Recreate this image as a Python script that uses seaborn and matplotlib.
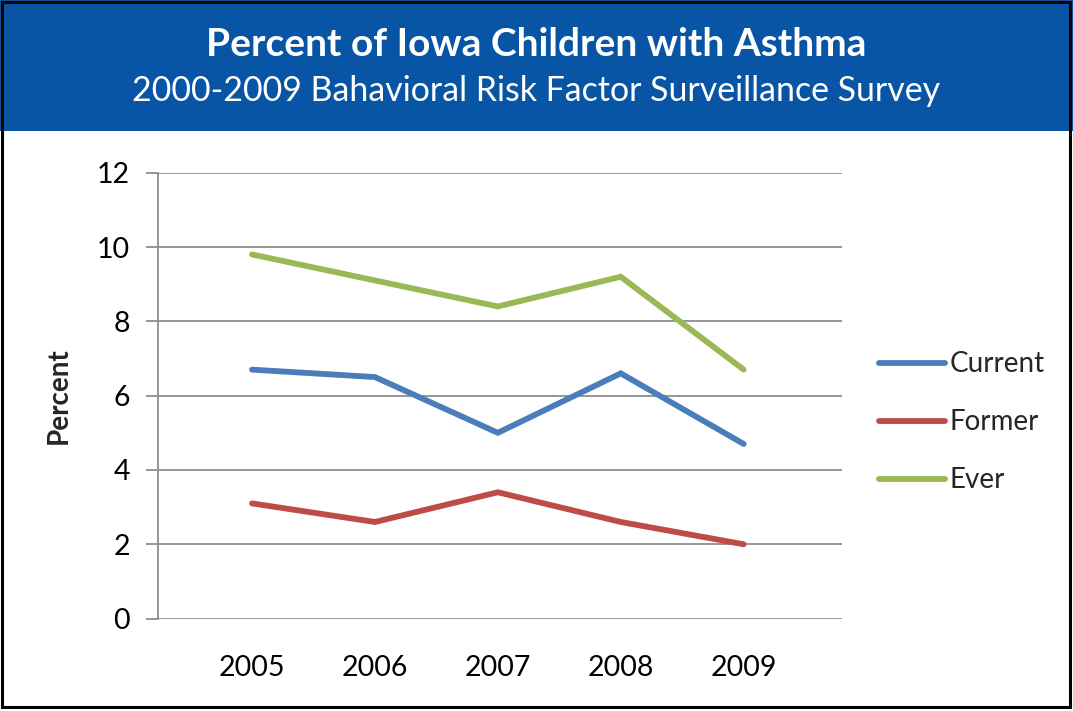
import matplotlib
matplotlib.use("Agg")
import matplotlib.pyplot as plt
from matplotlib.patches import Rectangle
import seaborn as sns
import pandas as pd

years = ["2005", "2006", "2007", "2008", "2009"]
current = [6.7, 6.5, 5.0, 6.6, 4.7]
former = [3.1, 2.6, 3.4, 2.6, 2.0]
ever = [9.8, 9.1, 8.4, 9.2, 6.7]
series_names = ["Current", "Former", "Ever"]
series_colors = ["#4A7EBB", "#BE4B48", "#98B954"]
yticks = [0, 2, 4, 6, 8, 10, 12]

title = "Percent of Iowa Children with Asthma"
subtitle = "2000-2009 Bahavioral Risk Factor Surveillance Survey"

df = pd.DataFrame({
    "Year": years * 3,
    "Percent": current + former + ever,
    "Series": [s for s in series_names for _ in years],
})

sns.set_theme(style="white")
plt.rcParams["font.family"] = ["Lato", "DejaVu Sans"]

W, H = 1073, 711
fig = plt.figure(figsize=(W / 100, H / 100), dpi=100)
fig.patch.set_facecolor("white")

# header band and outer frame
fig.patches.append(Rectangle((0, 1 - 131 / H), 1, 131 / H, transform=fig.transFigure,
                             facecolor="#0955A5", edgecolor="none", zorder=0))
fig.patches.append(Rectangle((2 / W, 4 / H), 1 - 5 / W, 1 - 6 / H, transform=fig.transFigure,
                             facecolor="none", edgecolor="black", linewidth=2.2, zorder=5))

fig.text(536 / W, 1 - 45 / H, title, ha="center", va="center", color="white",
         fontsize=28, fontweight="bold")
fig.text(536 / W, 1 - 91 / H, subtitle, ha="center", va="center", color="white",
         fontsize=24.4)

left, right, top, bottom = 158, 842, 172.7, 618.6
ax = fig.add_axes([left / W, 1 - bottom / H, (right - left) / W, (bottom - top) / H])

sns.lineplot(data=df, x="Year", y="Percent", hue="Series", hue_order=series_names,
             palette=series_colors, linewidth=4.2, sort=False, ax=ax,
             solid_capstyle="round", solid_joinstyle="miter")

ax.set_ylim(0, 12)
ax.set_yticks(yticks)
ax.set_xlim(-0.765, 4.8)
grid_c = "#8E8E8E"
ax.yaxis.grid(True, color=grid_c, linewidth=1.3)
ax.xaxis.grid(False)
for s in ["top", "right", "bottom"]:
    ax.spines[s].set_visible(False)
ax.spines["left"].set_color(grid_c)
ax.spines["left"].set_linewidth(1.3)
ax.set_axisbelow(True)
ax.tick_params(axis="y", which="major", length=9, width=1.3, color=grid_c,
               labelsize=20.5, pad=11, left=True)
ax.tick_params(axis="x", length=0, labelsize=20.5, pad=26)
for lbl in ax.get_xticklabels() + ax.get_yticklabels():
    lbl.set_color("black")
ax.set_xlabel("")
ax.set_ylabel("Percent", fontsize=20, fontweight="bold")
ax.yaxis.set_label_coords(-86 / (right - left), 0.5)

leg = ax.legend(loc="center left", bbox_to_anchor=(1.017, 0.44), frameon=False,
                fontsize=20, handlelength=2.4, handletextpad=0.15, labelspacing=1.15)
for h in leg.get_lines():
    h.set_linewidth(4.2)

fig.savefig("out.png", dpi=100)
